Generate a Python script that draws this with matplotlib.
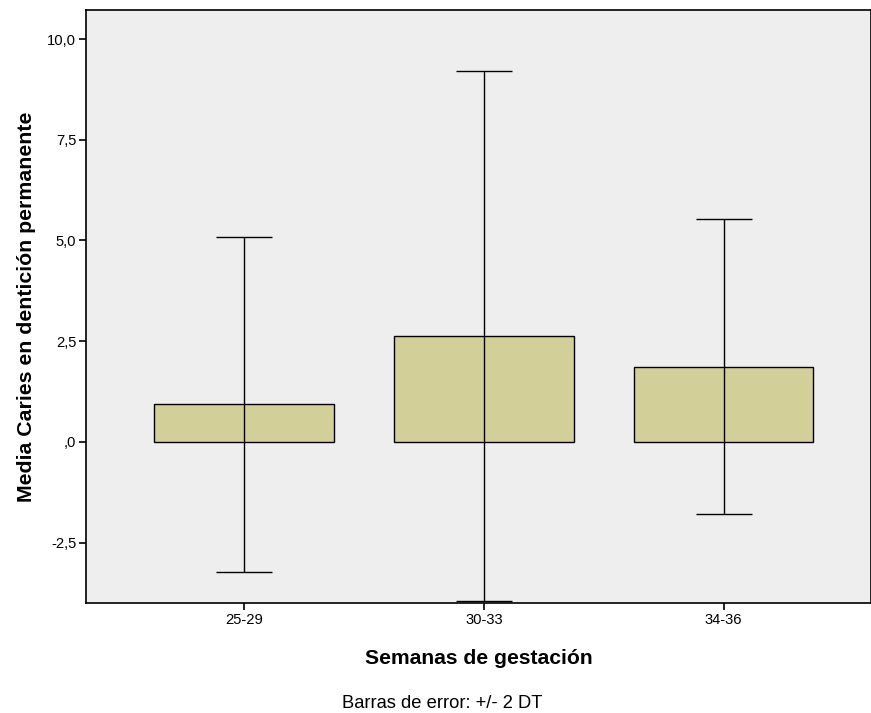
import matplotlib
matplotlib.use("Agg")
import matplotlib.pyplot as plt
import numpy as np

categories = ["25-29", "30-33", "34-36"]
means = [0.93, 2.63, 1.87]
err_2sd = [4.15, 6.58, 3.67]
yticks = [-2.5, 0.0, 2.5, 5.0, 7.5, 10.0]
ytick_labels = ["-2,5", ",0", "2,5", "5,0", "7,5", "10,0"]

plt.rcParams['font.family'] = ['Liberation Sans', 'DejaVu Sans']

fig = plt.figure(figsize=(8.71, 7.13), dpi=100)
ax = fig.add_axes([86/871, 1-603/713, 785/871, 593/713])
ax.set_facecolor('#EEEEEE')
x = np.arange(len(categories))
ax.bar(x, means, width=0.75, color='#D3CF99', edgecolor='black', linewidth=1.0, zorder=2)
ax.errorbar(x, means, yerr=err_2sd, fmt='none', ecolor='black', elinewidth=1.0,
            capsize=20, capthick=1.0, zorder=3)
ax.set_xlim(-0.66, 2.615)
ax.set_ylim(-4.0, 10.72)
ax.set_yticks(yticks)
ax.set_yticklabels(ytick_labels, fontsize=10.6)
ax.set_xticks(x)
ax.set_xticklabels(categories, fontsize=10.6)
ax.tick_params(axis='both', direction='out', length=5, width=1.2, color='black', pad=2)
for s in ax.spines.values():
    s.set_linewidth(1.2)
ax.set_ylabel("Media Caries en dentición permanente", fontsize=15.3, fontweight='bold', labelpad=8)
ax.set_xlabel("Semanas de gestación", fontsize=15.2, fontweight='bold', labelpad=16)
fig.text(442/871, 1-704/713, "Barras de error: +/- 2 DT", ha='center', va='center', fontsize=13.2)
fig.savefig("out.png", dpi=100)
